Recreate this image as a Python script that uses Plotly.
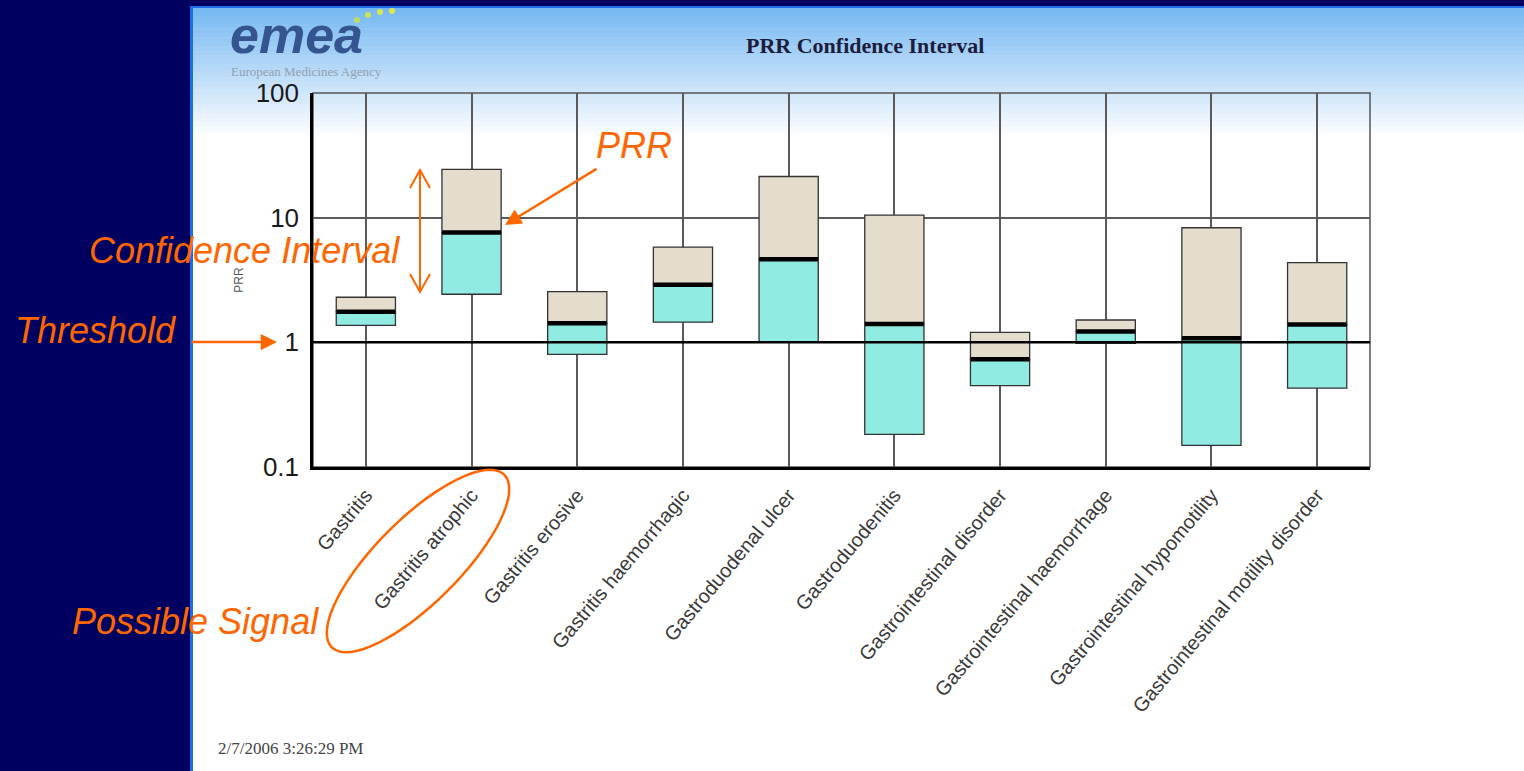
import numpy as np
import plotly.graph_objects as go

# ---------------- data ----------------
categories = [
    "Gastritis", "Gastritis atrophic", "Gastritis erosive", "Gastritis haemorrhagic",
    "Gastroduodenal ulcer", "Gastroduodenitis", "Gastrointestinal disorder",
    "Gastrointestinal haemorrhage", "Gastrointestinal hypomotility",
    "Gastrointestinal motility disorder",
]
ci_lower = [1.37, 2.43, 0.80, 1.45, 1.01, 0.183, 0.45, 0.98, 0.149, 0.43]
prr_value = [1.76, 7.6, 1.42, 2.90, 4.63, 1.40, 0.73, 1.22, 1.08, 1.39]
ci_upper = [2.30, 24.4, 2.55, 5.8, 21.4, 10.5, 1.20, 1.51, 8.3, 4.36]
y_tickvals = [0.1, 1, 10, 100]
y_ticktext = ["0.1", "1", "10", "100"]
threshold = 1

# ---------------- layout geometry ----------------
W, H = 1524, 771
L, R, T, B = 313, 154, 93, 304
PW, PH = W - L - R, H - T - B


def px(x):
    return (x - L) / PW


def py(y):
    return (H - B - y) / PH


ORANGE = "#ff6600"
BEIGE = "#e4dccc"
CYAN = "#90ebe2"

fig = go.Figure()

lower_len = [p - lo for p, lo in zip(prr_value, ci_lower)]
upper_len = [u - p for u, p in zip(ci_upper, prr_value)]

fig.add_trace(go.Bar(
    x=categories, y=lower_len, base=ci_lower, width=0.56,
    marker=dict(color=CYAN, line=dict(color="#333333", width=1.3)),
    showlegend=False, hoverinfo="skip",
))
fig.add_trace(go.Bar(
    x=categories, y=upper_len, base=prr_value, width=0.56,
    marker=dict(color=BEIGE, line=dict(color="#333333", width=1.3)),
    showlegend=False, hoverinfo="skip",
))
fig.add_trace(go.Scatter(
    x=categories, y=prr_value, mode="markers",
    marker=dict(symbol="line-ew", size=42, line=dict(color="black", width=4.5)),
    showlegend=False, hoverinfo="skip",
))

shapes = []
# slide background pieces
shapes.append(dict(type="rect", xref="paper", yref="paper", x0=px(0), x1=px(190), y0=py(H), y1=py(0),
                   fillcolor="#000060", line=dict(width=0), layer="below"))
shapes.append(dict(type="rect", xref="paper", yref="paper", x0=px(190), x1=px(W), y0=py(6), y1=py(0),
                   fillcolor="#000060", line=dict(width=0), layer="below"))
# gradient at top of slide
top_c = np.array([0x76, 0xb8, 0xf2])
bot_c = np.array([0xff, 0xff, 0xff])
n_band = 30
y_start, y_end = 6, 140
for i in range(n_band):
    t = i / (n_band - 1)
    c = (top_c * (1 - t) + bot_c * t).astype(int)
    y0 = y_start + (y_end - y_start) * i / n_band
    y1 = y_start + (y_end - y_start) * (i + 1) / n_band + 0.5
    shapes.append(dict(type="rect", xref="paper", yref="paper", x0=px(192), x1=px(W), y0=py(y1), y1=py(y0),
                       fillcolor="rgb(%d,%d,%d)" % tuple(c), line=dict(width=0), layer="below"))
# bright blue border of the slide panel
shapes.append(dict(type="rect", xref="paper", yref="paper", x0=px(190), x1=px(193), y0=py(H), y1=py(6),
                   fillcolor="#1a6ee6", line=dict(width=0), layer="below"))
shapes.append(dict(type="rect", xref="paper", yref="paper", x0=px(190), x1=px(W), y0=py(8), y1=py(6),
                   fillcolor="#1a6ee6", line=dict(width=0), layer="below"))
# plot frame (top/right gray)
shapes.append(dict(type="rect", xref="paper", yref="paper", x0=0, x1=1, y0=0, y1=1,
                   line=dict(color="#555555", width=1.5), layer="below"))
# threshold line
shapes.append(dict(type="line", xref="paper", yref="y", x0=0, x1=1, y0=threshold, y1=threshold,
                   line=dict(color="black", width=2.5), layer="above"))
# logo dots
for (cx, cy, col) in [(357, 20, "#b8e060"), (368, 15, "#c8e45a"), (380, 12, "#d8e850"), (392, 11, "#e0e848")]:
    shapes.append(dict(type="circle", xref="paper", yref="paper", x0=px(cx - 3), x1=px(cx + 3),
                       y0=py(cy + 3), y1=py(cy - 3), fillcolor=col, line=dict(width=0), layer="above"))
# ellipse around "Gastritis atrophic"
cxe, cye, a, b, ang = 418, 561, 122, 42, np.deg2rad(-45)
tt = np.linspace(0, 2 * np.pi, 73)
ex = cxe + a * np.cos(tt) * np.cos(ang) - b * np.sin(tt) * np.sin(ang)
ey = cye + a * np.cos(tt) * np.sin(ang) + b * np.sin(tt) * np.cos(ang)
path = "M " + " L ".join("%.5f,%.5f" % (px(xx), py(yy)) for xx, yy in zip(ex, ey)) + " Z"
shapes.append(dict(type="path", xref="paper", yref="paper", path=path,
                   line=dict(color=ORANGE, width=2.5), layer="above"))


def seg_path(points):
    return "M " + " L ".join("%.5f,%.5f" % (px(x), py(y)) for x, y in points)


# double-headed "confidence interval" arrow with open heads
ci_x, ci_top, ci_bot = 420, 170, 292
for pts in ([(ci_x, ci_top), (ci_x, ci_bot)],
            [(ci_x - 10, ci_top + 18), (ci_x, ci_top), (ci_x + 10, ci_top + 18)],
            [(ci_x - 10, ci_bot - 18), (ci_x, ci_bot), (ci_x + 10, ci_bot - 18)]):
    shapes.append(dict(type="path", xref="paper", yref="paper", path=seg_path(pts),
                       line=dict(color=ORANGE, width=2), layer="above"))

ann_font = dict(family="Liberation Sans, Arial, sans-serif", size=36, color=ORANGE, style="italic")


def txt(text, x, y, font, xanchor="center"):
    return dict(text=text, x=px(x), y=py(y), xref="paper", yref="paper", showarrow=False,
                xanchor=xanchor, yanchor="middle", font=font)


annotations = [
    txt("PRR Confidence Interval", 865, 46,
        dict(family="Liberation Serif, Times New Roman, serif", size=22, color="#1c1c3c", weight="bold")),
    txt("emea", 296, 35,
        dict(family="Liberation Sans, Arial, sans-serif", size=52, color="#34558f", style="italic",
             weight="bold")),
    txt("European Medicines Agency", 306, 71,
        dict(family="Liberation Serif, Times New Roman, serif", size=13, color="#93a0ae")),
    txt("2/7/2006 3:26:29 PM", 216, 748,
        dict(family="Liberation Serif, Times New Roman, serif", size=17, color="#444444"), xanchor="left"),
    txt("PRR", 634, 145, ann_font),
    txt("Confidence Interval", 244, 250, ann_font),
    txt("Threshold", 95, 330, ann_font),
    txt("Possible Signal", 195, 621, ann_font),
    # arrows
    dict(text="", x=px(505), y=py(225), ax=598 - 505, ay=168 - 225, xref="paper", yref="paper",
         showarrow=True, arrowhead=2, arrowsize=1.3, arrowwidth=2.5, arrowcolor=ORANGE),
    dict(text="", x=px(277), y=py(342), ax=190 - 277, ay=0, xref="paper", yref="paper",
         showarrow=True, arrowhead=2, arrowsize=1.3, arrowwidth=2.5, arrowcolor=ORANGE),
]

fig.update_layout(
    width=W, height=H,
    margin=dict(l=L, r=R, t=T, b=B, pad=0),
    paper_bgcolor="white", plot_bgcolor="white",
    barmode="overlay", bargap=0.44,
    shapes=shapes, annotations=annotations,
    showlegend=False,
    xaxis=dict(
        type="category", range=[-0.5, len(categories) - 0.5],
        showgrid=True, gridcolor="#5a5a5a", gridwidth=1.5,
        showline=True, linecolor="black", linewidth=2.5,
        ticks="", tickangle=-50, ticklabelstandoff=6,
        tickfont=dict(family="Liberation Sans, Arial, sans-serif", size=20, color="#3a3a3a"),
        zeroline=False,
    ),
    yaxis=dict(
        type="log", range=[-1, 2],
        tickvals=y_tickvals, ticktext=y_ticktext,
        showgrid=True, gridcolor="#5a5a5a", gridwidth=1.5,
        showline=True, linecolor="black", linewidth=2.5,
        ticks="", ticklabelstandoff=6,
        tickfont=dict(family="Liberation Sans Narrow, Arial Narrow, Liberation Sans, sans-serif", size=26,
                      color="#1a1a1a"),
        title=dict(text="PRR", standoff=10,
                   font=dict(family="Liberation Sans, Arial, sans-serif", size=12, color="#555555")),
        zeroline=False,
    ),
)

fig.write_html("out.html", config={"displayModeBar": False},
               post_script="document.body.style.margin='0';document.body.style.padding='0';")
